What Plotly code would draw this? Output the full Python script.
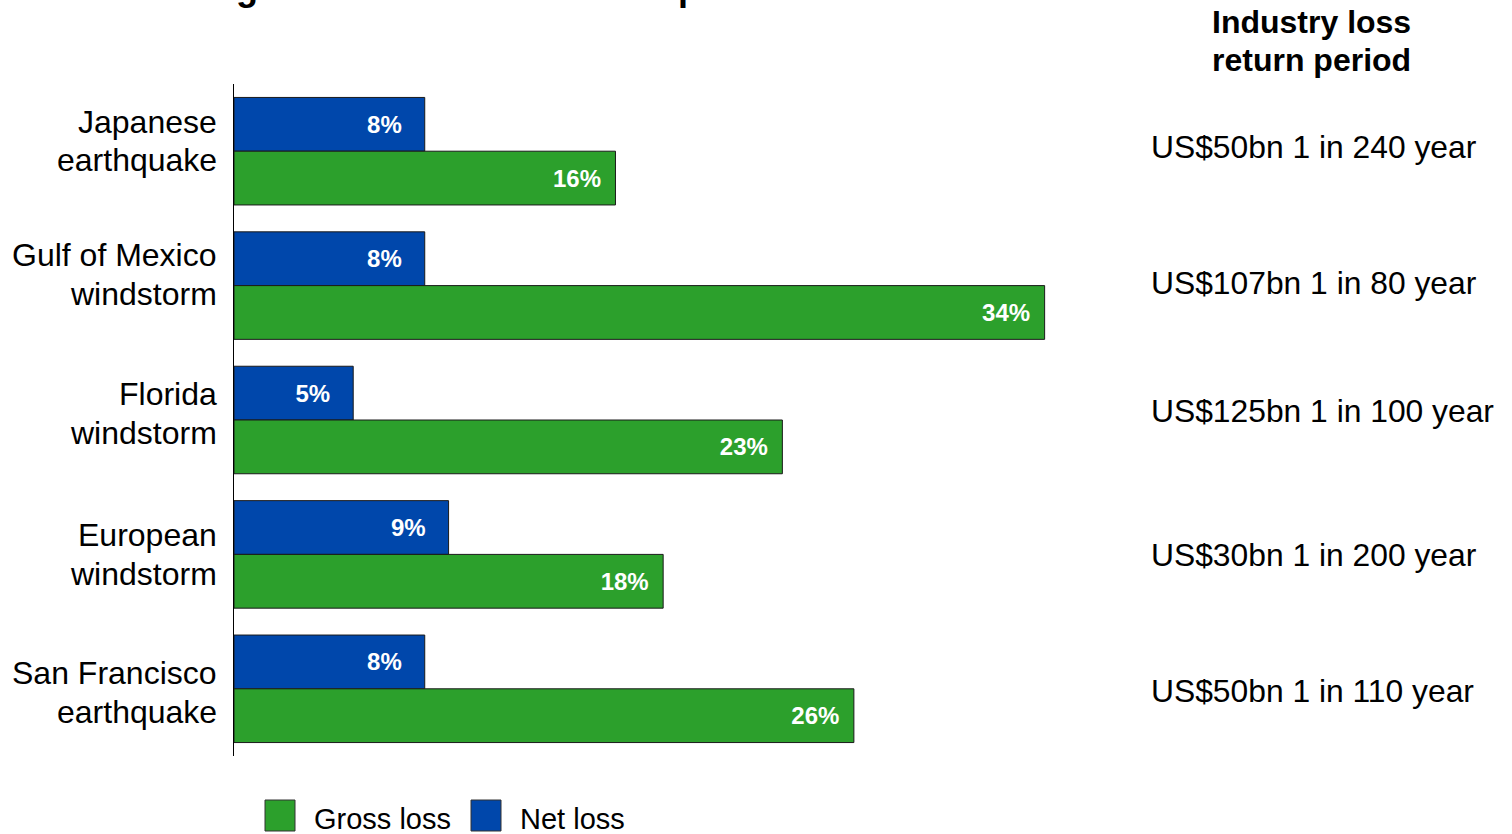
import plotly.graph_objects as go

# Perils, top to bottom (each name split over two lines)
perils = [
    ["Japanese", "earthquake"],
    ["Gulf of Mexico", "windstorm"],
    ["Florida", "windstorm"],
    ["European", "windstorm"],
    ["San Francisco", "earthquake"],
]
# Loss as % (values printed on the bars)
net_loss = [8, 8, 5, 9, 8]
gross_loss = [16, 34, 23, 18, 26]
# Industry loss and return period for each peril
industry_loss = [
    "US$50bn 1 in 240 year",
    "US$107bn 1 in 80 year",
    "US$125bn 1 in 100 year",
    "US$30bn 1 in 200 year",
    "US$50bn 1 in 110 year",
]
column_header = ["Industry loss", "return period"]
title_text = "Modelled gross and net loss return period"

GREEN = "#2CA02C"
BLUE = "#0047AB"
EDGE = "#1a1a1a"
FONT = "Liberation Sans, Arial, sans-serif"

W, H = 1512, 834
L, R, T, B = 234, 1140, 84, 756  # plot area in page pixels


def px(x):
    return (x - L) / (R - L)


def py(y):
    return (B - y) / (B - T)


cats = [" ".join(p) for p in perils]

fig = go.Figure()
fig.add_trace(go.Bar(
    name="Net loss", orientation="h", y=cats, x=net_loss,
    marker=dict(color=BLUE, line=dict(color=EDGE, width=1)),
    texttemplate="<b>%{x}%</b>\u00a0\u00a0\u00a0", textposition="inside",
    insidetextanchor="end", textangle=0,
    textfont=dict(color="white", size=24, family=FONT),
    showlegend=False,
))
fig.add_trace(go.Bar(
    name="Gross loss", orientation="h", y=cats, x=gross_loss,
    marker=dict(color=GREEN, line=dict(color=EDGE, width=1)),
    texttemplate="<b>%{x}%</b>\u00a0\u2009", textposition="inside",
    insidetextanchor="end", textangle=0,
    textfont=dict(color="white", size=24, family=FONT),
    showlegend=False,
))

annotations = []

# Peril names to the left of the axis (line centres, page pixels)
label_rows = [(122, 160), (255, 294), (394, 433), (535, 574), (673, 712)]
for lines, rows in zip(perils, label_rows):
    for line, yy in zip(lines, rows):
        annotations.append(dict(
            text=line, xref="paper", yref="paper",
            x=px(219), y=py(yy),
            xanchor="right", yanchor="middle", showarrow=False,
            font=dict(size=32, color="black", family=FONT),
        ))

# Industry loss column on the right
right_y = [147, 283, 411, 555, 691]
for txt, yy in zip(industry_loss, right_y):
    annotations.append(dict(
        text=txt, xref="paper", yref="paper", x=px(1149), y=py(yy),
        xanchor="left", yanchor="middle", showarrow=False,
        font=dict(size=31.8, color="black", family=FONT),
    ))
for j, line in enumerate(column_header):
    annotations.append(dict(
        text="<b>" + line + "</b>", xref="paper", yref="paper",
        x=px(1311), y=py(22 + j * 38), xanchor="center", yanchor="middle",
        showarrow=False, font=dict(size=32, color="black", family=FONT),
    ))

# Title, running off the top of the page
annotations.append(dict(
    text="<b>" + title_text + "</b>", xref="paper", yref="paper",
    x=px(68), y=py(10), xanchor="left", yanchor="bottom", showarrow=False,
    font=dict(size=36, color="black", family=FONT),
))

# Legend drawn as swatches + labels
shapes = []
legend_items = [("Gross loss", GREEN, 265), ("Net loss", BLUE, 471)]
for name, col, x0 in legend_items:
    shapes.append(dict(
        type="rect", xref="paper", yref="paper",
        x0=px(x0), x1=px(x0 + 30), y0=py(831), y1=py(800),
        fillcolor=col, line=dict(color="#333", width=1),
    ))
    annotations.append(dict(
        text=name, xref="paper", yref="paper", x=px(x0 + 47), y=py(819),
        xanchor="left", yanchor="middle", showarrow=False,
        font=dict(size=29, color="black", family=FONT),
    ))

fig.update_layout(
    width=W, height=H,
    margin=dict(l=L, r=W - R, t=T, b=H - B, pad=0),
    paper_bgcolor="white", plot_bgcolor="white",
    barmode="group", bargap=0.2, bargroupgap=0,
    font=dict(family=FONT),
    annotations=annotations, shapes=shapes,
    xaxis=dict(range=[0, 38], visible=False, fixedrange=True),
    yaxis=dict(
        type="category", autorange="reversed", showticklabels=False,
        showline=True, linecolor="black", linewidth=1, ticks="",
        showgrid=False, zeroline=False, fixedrange=True,
    ),
)

fig.write_html("out.html", config=dict(displayModeBar=False))
